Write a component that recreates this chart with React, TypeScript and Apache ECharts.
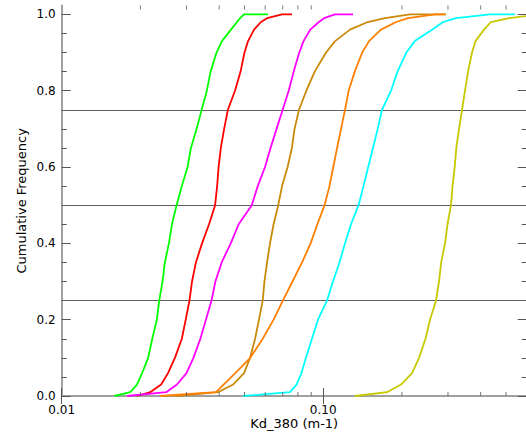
import React, { useEffect, useRef } from "react";
import * as echarts from "echarts";

// cumulative frequency levels shared by every curve
const FRACTIONS = [0, 0.01, 0.03, 0.06, 0.1, 0.15, 0.2, 0.25, 0.3, 0.35, 0.4, 0.45, 0.5, 0.55, 0.6, 0.65, 0.7, 0.75, 0.8, 0.85, 0.9, 0.93, 0.96, 0.98, 0.99, 1.0, 1.0];

// Kd_380 (m-1) values at each cumulative frequency level
const GREEN = [0.0159, 0.0183, 0.0194, 0.0203, 0.0214, 0.0222, 0.0231, 0.0236, 0.0243, 0.0248, 0.0257, 0.0264, 0.0275, 0.0288, 0.0303, 0.0312, 0.0328, 0.0343, 0.0359, 0.0371, 0.0391, 0.041, 0.0444, 0.0468, 0.0481, 0.0498, 0.0615];
const RED = [0.0194, 0.0218, 0.024, 0.0255, 0.0271, 0.0288, 0.0298, 0.0308, 0.0315, 0.0326, 0.0344, 0.0366, 0.0386, 0.0393, 0.0398, 0.0406, 0.0418, 0.0432, 0.046, 0.0483, 0.05, 0.0516, 0.0544, 0.0578, 0.061, 0.0696, 0.076];
const MAGENTA = [0.0178, 0.0251, 0.0276, 0.03, 0.0319, 0.0339, 0.0356, 0.0374, 0.0387, 0.0409, 0.0443, 0.0475, 0.0533, 0.0562, 0.0599, 0.0629, 0.0663, 0.07, 0.0738, 0.0771, 0.081, 0.0841, 0.0892, 0.0963, 0.1007, 0.111, 0.13];
const GOLDENROD = [0.0271, 0.0396, 0.0452, 0.0498, 0.0525, 0.0549, 0.0568, 0.0587, 0.0596, 0.061, 0.0626, 0.0646, 0.0673, 0.0696, 0.0731, 0.0759, 0.0777, 0.0808, 0.0862, 0.0928, 0.1025, 0.111, 0.1266, 0.148, 0.172, 0.215, 0.295];
const ORANGE = [0.0238, 0.0389, 0.0416, 0.0461, 0.0526, 0.0587, 0.0646, 0.0701, 0.0763, 0.083, 0.0895, 0.095, 0.1012, 0.1057, 0.1093, 0.113, 0.117, 0.1212, 0.1251, 0.132, 0.141, 0.1497, 0.1663, 0.19, 0.211, 0.268, 0.292];
const CYAN = [0.0494, 0.0746, 0.0791, 0.0826, 0.0859, 0.0906, 0.0955, 0.1034, 0.109, 0.1154, 0.1212, 0.1277, 0.1365, 0.1426, 0.1486, 0.155, 0.1616, 0.1678, 0.1817, 0.1923, 0.2079, 0.224, 0.2607, 0.2872, 0.322, 0.434, 0.541];
const OLIVE = [0.1323, 0.1754, 0.1984, 0.2186, 0.2325, 0.2461, 0.2561, 0.27, 0.2772, 0.2826, 0.2923, 0.2988, 0.3081, 0.3123, 0.3183, 0.3229, 0.3306, 0.3395, 0.3485, 0.3579, 0.3707, 0.3823, 0.412, 0.438, 0.5135, 0.68, 0.75];

// axis ticks and reference levels
const X_MIN = 0.01;
const X_MAX = 0.6;
const X_MINOR = [0.02, 0.03, 0.04, 0.05, 0.06, 0.07, 0.08, 0.09, 0.2, 0.3, 0.4, 0.5];
const Y_MIN = 0;
const Y_MAX = 1.023;
const Y_MAJOR = [0, 0.2, 0.4, 0.6, 0.8, 1.0];
const Y_MINOR = [0.05, 0.1, 0.15, 0.25, 0.3, 0.35, 0.45, 0.5, 0.55, 0.65, 0.7, 0.75, 0.85, 0.9, 0.95];
const REF_LEVELS = [0.25, 0.5, 0.75];

const CURVES = [
  { name: "c1", values: GREEN, color: "#00ff00" },
  { name: "c2", values: RED, color: "#ff0000" },
  { name: "c3", values: MAGENTA, color: "#ff00ff" },
  { name: "c4", values: GOLDENROD, color: "#c88a08" },
  { name: "c5", values: ORANGE, color: "#ff8000" },
  { name: "c6", values: CYAN, color: "#00ffff" },
  { name: "c7", values: OLIVE, color: "#c8c800" },
];

const FONT = "'DejaVu Sans', Verdana, sans-serif";
const FRAME = "#a0a0a0";
const TICK = "#555555";

export default function App() {
  const ref = useRef<HTMLDivElement>(null);
  useEffect(() => {
    if (!ref.current) return;
    const chart = echarts.init(ref.current, undefined, { renderer: "svg" });

    const logX = (pos: string, showLabel: boolean) => ({
      type: "log",
      logBase: 10,
      min: X_MIN,
      max: X_MAX,
      position: pos,
      axisLine: { show: true, lineStyle: { color: FRAME, width: 2 } },
      axisTick: { show: true, inside: true, length: 8, lineStyle: { color: TICK, width: 1 } },
      axisLabel: {
        show: showLabel,
        showMaxLabel: false,
        margin: 8,
        color: "#000",
        fontFamily: FONT,
        fontSize: 12,
        formatter: (v: number) => v.toFixed(2),
      },
      splitLine: { show: false },
      minorTick: { show: false },
      ...(showLabel
        ? {
            name: "Kd_380 (m-1)",
            nameLocation: "middle",
            nameGap: 21,
            nameMoveOverlap: false,
            nameTextStyle: { color: "#000", fontFamily: FONT, fontSize: 13, verticalAlign: "top" },
          }
        : {}),
    });

    const valY = (pos: string, ticks: number[], len: number, line: boolean, label: boolean) => ({
      type: "value",
      min: Y_MIN,
      max: Y_MAX,
      position: pos,
      axisLine: { show: line, lineStyle: { color: FRAME, width: 2 } },
      axisTick: { show: true, inside: true, length: len, customValues: ticks, lineStyle: { color: TICK, width: 1 } },
      axisLabel: {
        show: label,
        customValues: Y_MAJOR,
        margin: 6,
        color: "#000",
        fontFamily: FONT,
        fontSize: 12,
        formatter: (v: number) => v.toFixed(1),
      },
      splitLine: { show: false },
      ...(label
        ? {
            name: "Cumulative Frequency",
            nameLocation: "middle",
            nameGap: 34,
            nameMoveOverlap: false,
            nameTextStyle: { color: "#000", fontFamily: FONT, fontSize: 13 },
          }
        : {}),
    });

    const lineSeries = CURVES.map((c, idx) => ({
      name: c.name,
      type: "line",
      xAxisIndex: 0,
      yAxisIndex: 0,
      data: FRACTIONS.map((f, i) => [c.values[i], f]),
      showSymbol: false,
      symbol: "none",
      clip: true,
      lineStyle: { color: c.color, width: 1.8 },
      itemStyle: { color: c.color },
      z: 3,
      ...(idx === 0
        ? {
            markLine: {
              silent: true,
              symbol: ["none", "none"],
              label: { show: false },
              lineStyle: { color: "#606060", width: 1, type: "solid" },
              data: REF_LEVELS.map((v) => ({ yAxis: v })),
              z: 1,
            },
          }
        : {}),
    }));

    const tickSeries = [
      {
        type: "scatter",
        xAxisIndex: 0,
        yAxisIndex: 0,
        data: X_MINOR.map((v) => [v, Y_MIN]),
        symbol: "rect",
        symbolSize: [1, 4],
        symbolOffset: [0, -2],
        itemStyle: { color: TICK },
        silent: true,
        clip: false,
        z: 4,
      },
      {
        type: "scatter",
        xAxisIndex: 0,
        yAxisIndex: 0,
        data: X_MINOR.map((v) => [v, Y_MAX]),
        symbol: "rect",
        symbolSize: [1, 4],
        symbolOffset: [0, 2],
        itemStyle: { color: TICK },
        silent: true,
        clip: false,
        z: 4,
      },
    ];

    chart.setOption({
      animation: false,
      backgroundColor: "#ffffff",
      grid: { left: 61.7, top: 5.6, width: 465, height: 390.4, containLabel: false, outerBoundsMode: "none" },
      xAxis: [logX("bottom", true), logX("top", false)],
      yAxis: [
        valY("left", Y_MAJOR, 9, true, true),
        valY("left", Y_MINOR, 5, false, false),
        valY("right", Y_MAJOR, 9, true, false),
        valY("right", Y_MINOR, 5, false, false),
      ],
      series: [...lineSeries, ...tickSeries],
    });
    return () => chart.dispose();
  }, []);
  return <div ref={ref} style={{ position: "absolute", left: 0, top: 0, width: 526, height: 434 }} />;
}
